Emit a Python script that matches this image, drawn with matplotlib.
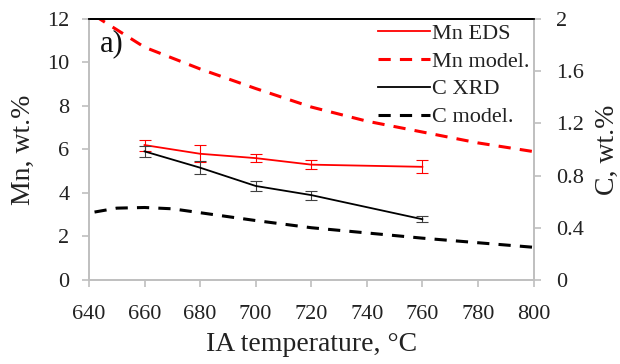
import matplotlib
matplotlib.use("Agg")
import matplotlib.pyplot as plt

plt.rcParams['font.family'] = ['Liberation Serif', 'DejaVu Serif']

# measured points
temps = [660, 680, 700, 720, 760]
mn_eds = [6.2, 5.8, 5.6, 5.3, 5.2]
mn_err = [0.25, 0.4, 0.2, 0.2, 0.3]
c_xrd = [0.985, 0.86, 0.72, 0.65, 0.465]
c_err = [0.04, 0.05, 0.04, 0.035, 0.025]

# model curves
mn_model_t = [642, 660, 680, 700, 720, 740, 760, 780, 800]
mn_model = [12.15, 10.7, 9.7, 8.8, 7.95, 7.3, 6.8, 6.3, 5.9]
c_model_t = [642, 650, 660, 670, 680, 700, 720, 740, 760, 780, 800]
c_model = [0.52, 0.55, 0.555, 0.545, 0.515, 0.455, 0.40, 0.36, 0.32, 0.285, 0.25]

grey = '#bfbfbf'
txt = '#222222'

fig = plt.figure(figsize=(6.2, 3.64), dpi=100)
ax = fig.add_axes([0.1435, 0.231, 0.717, 0.717])
ax2 = ax.twinx()

l1 = ax.errorbar(temps, mn_eds, yerr=mn_err, color='red', lw=1.3, capsize=4,
                 elinewidth=0.8, capthick=0.8, label='Mn EDS')
l2, = ax.plot(mn_model_t, mn_model, color='red', lw=2.2, ls=(0, (4, 3)), label='Mn model.')
l3 = ax2.errorbar(temps, c_xrd, yerr=c_err, color='black', lw=1.3, capsize=4,
                  elinewidth=0.8, capthick=0.8, ecolor='#404040', label='C XRD')
l4, = ax2.plot(c_model_t, c_model, color='black', lw=2.2, ls=(0, (4, 3)), label='C model.')

ax.set_xlim(640, 800)
ax.set_ylim(0, 12)
ax2.set_ylim(0, 2)
ax.set_xticks(range(640, 801, 20))
ax.set_yticks(range(0, 13, 2))
ax2.set_yticks([0, 0.4, 0.8, 1.2, 1.6, 2])
ax2.set_yticklabels(['0', '0.4', '0.8', '1.2', '1.6', '2'])

for a in (ax, ax2):
    for s in ('left', 'right', 'bottom'):
        a.spines[s].set_color(grey)
        a.spines[s].set_linewidth(1.2)
    a.spines['top'].set_color('black')
    a.spines['top'].set_linewidth(1.3)
    a.tick_params(colors=grey, labelcolor=txt, labelsize=16, length=5, width=1.2, pad=9)
ax.tick_params(axis='x', pad=13)
ax2.tick_params(axis='y', pad=11)

ax.set_xlabel('IA temperature, °C', fontsize=20, color=txt, labelpad=6)
ax.set_ylabel('Mn, wt.%', fontsize=20, color=txt, labelpad=8)
ax2.set_ylabel('C, wt.%', fontsize=20, color=txt, labelpad=8)

ax.text(644, 10.5, 'a)', fontsize=22, color='#111111')

leg = ax.legend([l1.lines[0], l2, l3.lines[0], l4], ['Mn EDS', 'Mn model.', 'C XRD', 'C model.'],
                loc='upper right', bbox_to_anchor=(1.02, 1.035), frameon=False, fontsize=16,
                handlelength=2.35, handletextpad=0.05, labelspacing=0.33, borderaxespad=0.2)
for t in leg.get_texts():
    t.set_color(txt)

fig.savefig('out.png', dpi=100)
